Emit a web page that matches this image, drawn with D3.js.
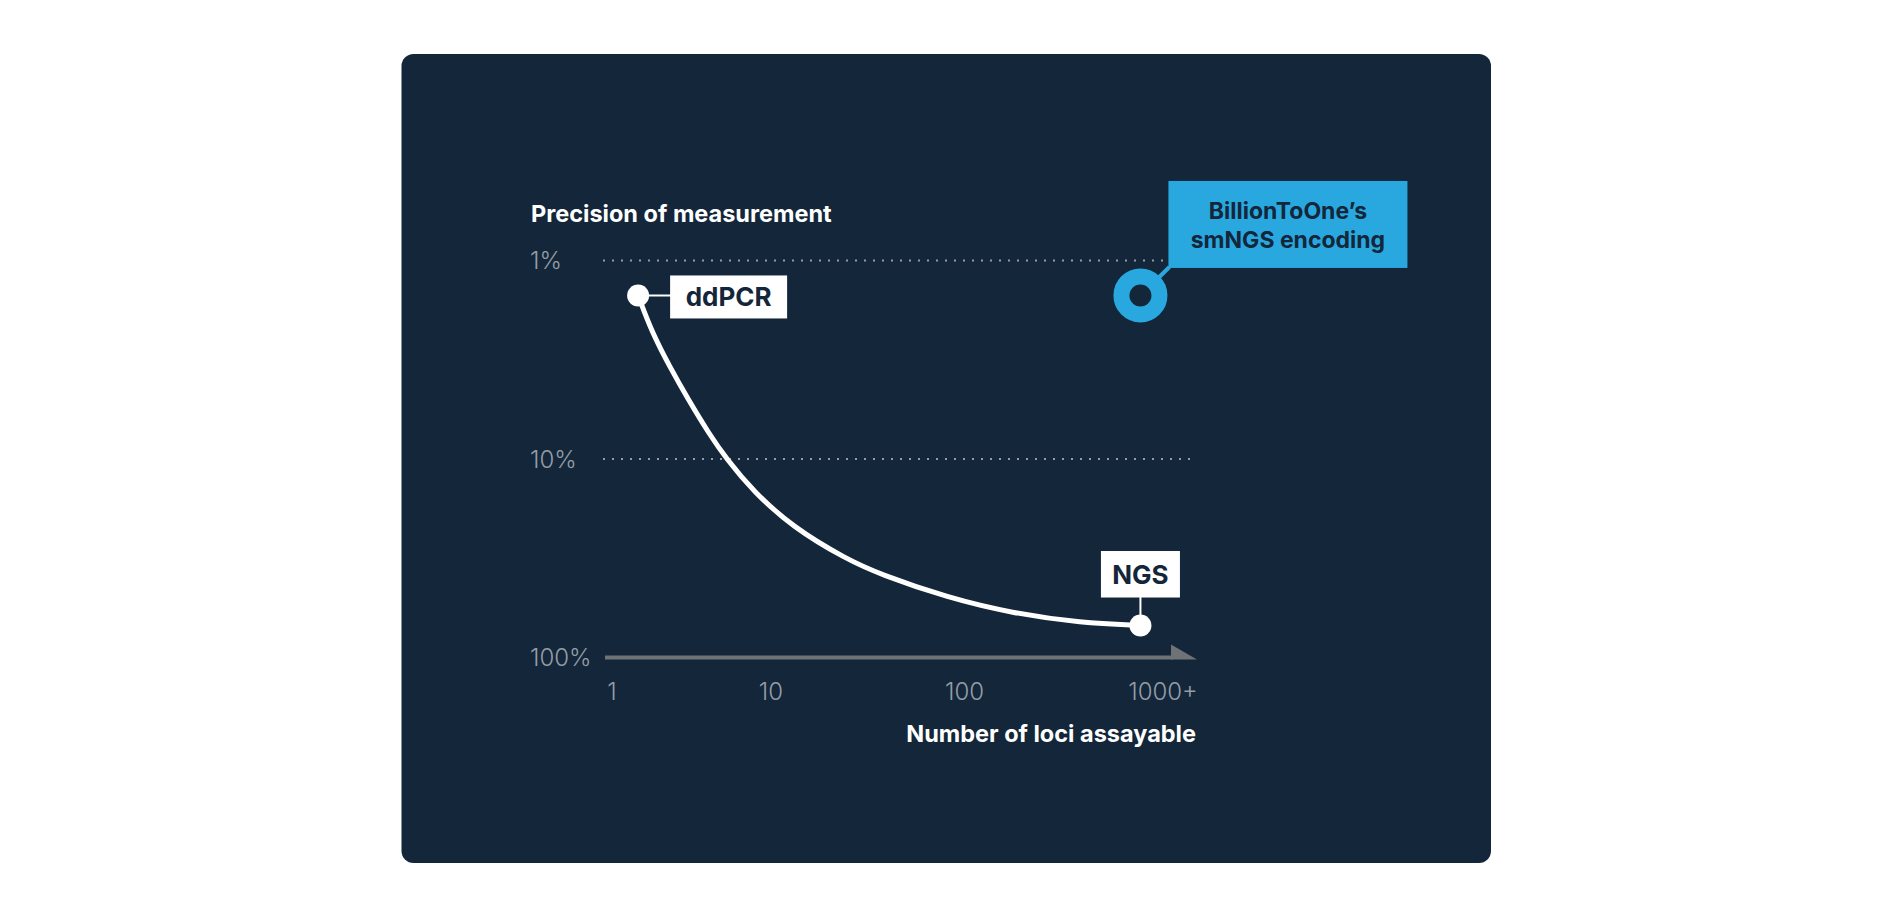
<!DOCTYPE html>
<html>
<head>
<meta charset="utf-8">
<script src="https://cdn.jsdelivr.net/npm/d3@7"></script>
<style>
  html, body { margin: 0; padding: 0; background: #ffffff; }
  svg { display: block; }
  text { font-family: Inter, "Noto Sans", sans-serif; }
</style>
</head>
<body>
<svg id="chart" width="1896" height="921"></svg>
<script>
// ---- data ----
const curveLoci      = [1.6, 2.0, 2.6, 3.4, 4.5, 5.7, 8, 13, 25, 37, 82, 177, 386, 770];
const curvePrecision = [1.5, 2.3, 3.4, 5.0, 7.4, 10, 14.5, 22, 32, 38, 50, 60, 67, 69];

const methodNames     = ["ddPCR", "NGS"];
const methodLoci      = [1.6, 770];
const methodPrecision = [1.5, 69];

const smngsLabel     = ["BillionToOne’s", "smNGS encoding"];
const smngsLoci      = 770;
const smngsPrecision = 1.5;

const yTickValues = [1, 10, 100];
const yTickLabels = ["1%", "10%", "100%"];
const xTickValues = [1, 10, 100, 1000];
const xTickLabels = ["1", "10", "100", "1000+"];

const yTitle = "Precision of measurement";
const xTitle = "Number of loci assayable";

// ---- styles ----
const BG = "#13263a";
const GRAY = "#939da6";
const BLUE = "#29a8e0";
const AXIS = "#707376";

const svg = d3.select("#chart");

// card
svg.append("rect")
  .attr("x", 401.5).attr("y", 54).attr("width", 1089.5).attr("height", 809)
  .attr("rx", 12).attr("fill", BG);

// scales
const x = d3.scaleSymlog().constant(0.7).domain([1, 1000]).range([612, 1163]);
const y = d3.scaleLog().domain([1, 100]).range([260.5, 657.5]);

// gridlines (1%, 10%)
svg.append("g").selectAll("line")
  .data(yTickValues.filter(v => v < 100))
  .join("line")
  .attr("x1", 603).attr("x2", 1191)
  .attr("y1", d => y(d)).attr("y2", d => y(d))
  .attr("stroke", GRAY).attr("stroke-width", 2)
  .attr("stroke-dasharray", "2 7");

// y tick labels
svg.append("g").selectAll("text")
  .data(yTickValues)
  .join("text")
  .attr("x", 530).attr("y", d => y(d) + 8.5)
  .attr("fill", GRAY).attr("font-size", 24).attr("font-weight", 300)
  .text((d, i) => yTickLabels[i]);

// y title
svg.append("text")
  .attr("x", 531).attr("y", 222)
  .attr("fill", "#ffffff").attr("font-size", 23.5).attr("font-weight", 700)
  .text(yTitle);

// x axis line + arrow head
const axisY = y(100);
svg.append("line")
  .attr("x1", 605).attr("x2", 1173)
  .attr("y1", axisY).attr("y2", axisY)
  .attr("stroke", AXIS).attr("stroke-width", 4);
svg.append("path")
  .attr("d", `M1171,${axisY - 13}L1197,${axisY + 2}L1171,${axisY + 2}Z`)
  .attr("fill", AXIS);

// x tick labels
svg.append("g").selectAll("text")
  .data(xTickValues)
  .join("text")
  .attr("x", d => x(d)).attr("y", 700)
  .attr("text-anchor", "middle")
  .attr("fill", GRAY).attr("font-size", 24).attr("font-weight", 300)
  .text((d, i) => xTickLabels[i]);

// x title
svg.append("text")
  .attr("x", 1196).attr("y", 742)
  .attr("text-anchor", "end")
  .attr("fill", "#ffffff").attr("font-size", 23.5).attr("font-weight", 700)
  .text(xTitle);

// curve
const line = d3.line()
  .x((d, i) => x(curveLoci[i]))
  .y((d, i) => y(curvePrecision[i]))
  .curve(d3.curveBasis);
svg.append("path")
  .datum(curveLoci)
  .attr("d", line)
  .attr("fill", "none").attr("stroke", "#ffffff")
  .attr("stroke-width", 5).attr("stroke-linecap", "round");

// method labels
const mx = methodLoci.map(v => x(v));
const my = methodPrecision.map(v => y(v));

// ddPCR: label to the right
{
  const px = mx[0], py = my[0];
  svg.append("line").attr("x1", px).attr("x2", px + 34).attr("y1", py).attr("y2", py)
    .attr("stroke", "#ffffff").attr("stroke-width", 2);
  svg.append("rect").attr("x", px + 32).attr("y", py - 20).attr("width", 117).attr("height", 43)
    .attr("fill", "#ffffff");
  svg.append("text").attr("x", px + 32 + 58.5).attr("y", py + 10.5)
    .attr("text-anchor", "middle").attr("fill", BG)
    .attr("font-size", 26).attr("font-weight", 700).text(methodNames[0]);
}
// NGS: label above
{
  const px = mx[1], py = my[1];
  svg.append("line").attr("x1", px).attr("x2", px).attr("y1", py).attr("y2", py - 30)
    .attr("stroke", "#ffffff").attr("stroke-width", 2);
  svg.append("rect").attr("x", px - 39.5).attr("y", py - 74.5).attr("width", 79).attr("height", 46.5)
    .attr("fill", "#ffffff");
  svg.append("text").attr("x", px).attr("y", py - 42)
    .attr("text-anchor", "middle").attr("fill", BG)
    .attr("font-size", 26).attr("font-weight", 700).text(methodNames[1]);
}

// method points
svg.append("g").selectAll("circle")
  .data(methodNames)
  .join("circle")
  .attr("cx", (d, i) => mx[i]).attr("cy", (d, i) => my[i])
  .attr("r", 11).attr("fill", "#ffffff");

// smNGS callout
{
  const px = x(smngsLoci), py = y(smngsPrecision);
  const bx = px + 28, by = py - 114.5, bw = 239, bh = 87;
  svg.append("line").attr("x1", px).attr("y1", py).attr("x2", bx + 1).attr("y2", by + bh - 1)
    .attr("stroke", BLUE).attr("stroke-width", 4);
  svg.append("rect").attr("x", bx).attr("y", by).attr("width", bw).attr("height", bh)
    .attr("fill", BLUE);
  svg.append("g").selectAll("text")
    .data(smngsLabel)
    .join("text")
    .attr("x", bx + bw / 2).attr("y", (d, i) => by + 38 + i * 29)
    .attr("text-anchor", "middle").attr("fill", BG)
    .attr("font-size", 23).attr("font-weight", 700)
    .text(d => d);
  svg.append("circle").attr("cx", px).attr("cy", py).attr("r", 19)
    .attr("fill", BG).attr("stroke", BLUE).attr("stroke-width", 16);
}
</script>
</body>
</html>
